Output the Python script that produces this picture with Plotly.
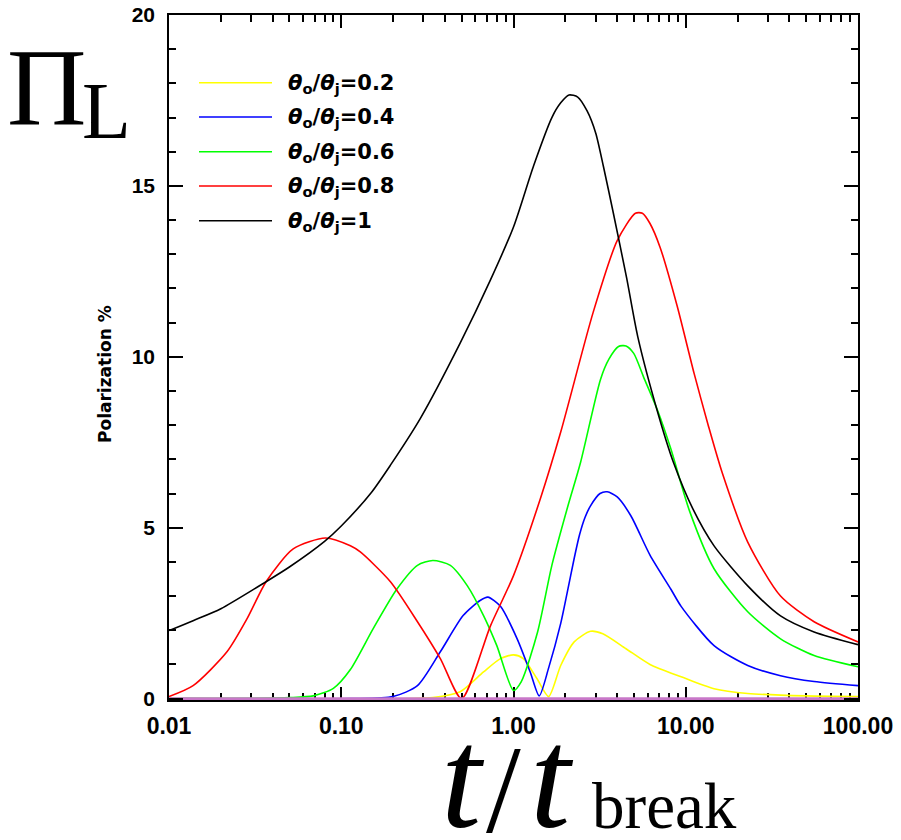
import plotly.graph_objects as go

# ---- data ----
x_tick_vals = [0.01, 0.1, 1, 10, 100]
x_tick_text = ["0.01", "0.10", "1.00", "10.00", "100.00"]
y_tick_vals = [0, 5, 10, 15, 20]
y_tick_text = ["0", "5", "10", "15", "20"]

labels = ["0.2", "0.4", "0.6", "0.8", "1"]
colors = ["#ffff00", "#0000ff", "#00ff00", "#ff0000", "#000000"]

x_02 = [0.01, 0.25, 0.34, 0.49, 0.67, 0.84, 1.0, 1.14, 1.37, 1.6, 1.88, 2.25, 2.8, 3.3, 4.5, 6.2, 9.4, 14.6, 22.9, 50, 100]
y_02 = [0.0, 0.0, 0.03, 0.2, 0.78, 1.17, 1.28, 1.17, 0.58, 0.06, 0.97, 1.66, 1.97, 1.9, 1.46, 1.0, 0.64, 0.29, 0.15, 0.08, 0.06]

x_04 = [0.01, 0.113, 0.2, 0.277, 0.376, 0.51, 0.64, 0.71, 0.84, 1.05, 1.25, 1.41, 1.6, 1.88, 2.05, 2.25, 2.42, 2.6, 2.8, 3.18, 3.5, 4.0, 4.8, 6.2, 8.2, 9.4, 14.6, 22.9, 35.5, 55.6, 100]
y_04 = [0.0, 0.0, 0.06, 0.38, 1.37, 2.43, 2.87, 2.97, 2.7, 1.75, 0.78, 0.08, 0.9, 2.2, 3.1, 4.1, 4.8, 5.3, 5.64, 6.0, 6.05, 5.9, 5.35, 4.2, 3.2, 2.7, 1.55, 0.97, 0.67, 0.5, 0.38]

x_06 = [0.01, 0.03, 0.05, 0.0688, 0.09, 0.113, 0.153, 0.21, 0.277, 0.34, 0.43, 0.54, 0.67, 0.8, 1.0, 1.11, 1.38, 1.67, 2.06, 2.45, 3.2, 3.58, 4.07, 4.5, 4.99, 5.7, 6.9, 8.2, 10.5, 14.6, 22.9, 35.5, 55.6, 100]
y_06 = [0.0, 0.01, 0.03, 0.08, 0.3, 0.85, 2.04, 3.2, 3.9, 4.04, 3.9, 3.3, 2.43, 1.55, 0.24, 0.5, 1.95, 3.9, 5.6, 6.91, 9.34, 9.93, 10.3, 10.32, 10.1, 9.4, 8.4, 7.3, 5.5, 3.8, 2.54, 1.75, 1.26, 0.93]

x_08 = [0.01, 0.0138, 0.0217, 0.0284, 0.0366, 0.0526, 0.081, 0.113, 0.129, 0.193, 0.277, 0.376, 0.5, 0.735, 1.0, 1.43, 1.88, 2.9, 4.0, 5.1, 5.6, 6.2, 7.1, 8.9, 11.2, 13.5, 16.3, 22.9, 35.5, 55.6, 100]
y_08 = [0.06, 0.38, 1.37, 2.34, 3.42, 4.38, 4.70, 4.47, 4.29, 3.42, 2.25, 1.17, 0.0, 2.13, 3.6, 5.84, 7.8, 11.3, 13.4, 14.2, 14.2, 13.9, 13.2, 11.5, 9.5, 8.0, 6.6, 4.58, 3.0, 2.25, 1.66]

x_10 = [0.01, 0.0138, 0.02, 0.0366, 0.05, 0.08, 0.1, 0.15, 0.193, 0.288, 0.49, 0.735, 1.0, 1.31, 1.67, 1.88, 2.1, 2.36, 2.67, 3.0, 3.33, 3.8, 4.54, 5.26, 6.87, 8.5, 11.0, 14.6, 22.9, 35.5, 55.6, 100]
y_10 = [1.99, 2.28, 2.63, 3.42, 3.85, 4.6, 5.05, 6.04, 6.83, 8.2, 10.4, 12.25, 13.8, 15.6, 17.0, 17.43, 17.66, 17.6, 17.2, 16.55, 15.56, 14.2, 12.3, 10.6, 8.38, 6.9, 5.55, 4.47, 3.3, 2.42, 1.95, 1.58]

x_zero = [0.01, 100]
y_zero = [0.0, 0.0]

series_x = [x_02, x_04, x_06, x_08, x_10]
series_y = [y_02, y_04, y_06, y_08, y_10]

# ---- figure ----
fig = go.Figure()
for xs, ys, c, lab in zip(series_x, series_y, colors, labels):
    fig.add_trace(go.Scatter(x=xs, y=ys, mode="lines",
                             line=dict(color=c, width=1.6, shape="spline", smoothing=0.7),
                             name="θo/θj=" + lab, showlegend=False))
fig.add_trace(go.Scatter(x=x_zero, y=y_zero, mode="lines", line=dict(color="#c878c8", width=3),
                         showlegend=False, hoverinfo="skip"))

minor_x = [m * 10 ** e for e in (-2, -1, 0, 1) for m in range(2, 10)]

W, H = 901, 840
L, R, T, B = 169, 43, 15, 140
pw, ph = W - L - R, H - T - B


def px(xp):
    return (xp - L) / pw


def py(yp):
    return (H - B - yp) / ph


fig.update_layout(
    width=W, height=H,
    margin=dict(l=L, r=R, t=T, b=B, autoexpand=False),
    paper_bgcolor="white", plot_bgcolor="white",
    font=dict(family="Liberation Sans", color="black"),
    xaxis=dict(type="log", range=[-2, 2], showgrid=False, zeroline=False, automargin=False,
               showline=True, linecolor="black", linewidth=1.5, mirror="allticks",
               ticks="inside", ticklen=13, tickwidth=1.5, tickcolor="black",
               tickvals=x_tick_vals, ticktext=x_tick_text,
               tickfont=dict(family="Liberation Sans", size=23, color="black", weight="bold"),
               ticklabelstandoff=5, layer="below traces",
               minor=dict(ticks="inside", ticklen=7, tickwidth=1.5, tickcolor="black",
                          tickvals=minor_x, showgrid=False)),
    yaxis=dict(range=[-0.04, 20], showgrid=False, zeroline=False, automargin=False,
               showline=True, linecolor="black", linewidth=1.5, mirror="allticks",
               ticks="inside", ticklen=14, tickwidth=1.5, tickcolor="black",
               tickvals=y_tick_vals, ticktext=y_tick_text,
               tickfont=dict(family="Liberation Sans", size=21, color="black", weight="bold"),
               ticklabelstandoff=8,
               minor=dict(ticks="inside", ticklen=7, tickwidth=1.5, tickcolor="black",
                          dtick=1, showgrid=False)),
)

# legend drawn manually
leg_rows = [82.7, 117, 151.7, 186, 220.7]
shapes = []
annots = []
for yrow, c, lab in zip(leg_rows, colors, labels):
    shapes.append(dict(type="line", xref="paper", yref="paper",
                       x0=px(199), x1=px(272), y0=py(yrow), y1=py(yrow),
                       line=dict(color=c, width=1.5)))
    annots.append(dict(xref="paper", yref="paper", x=px(286), y=py(yrow + 1),
                       xanchor="left", yanchor="middle", showarrow=False,
                       text="<b><i>θ</i><sub>o</sub>/<i>θ</i><sub>j</sub>=" + lab + "</b>",
                       font=dict(family="DejaVu Sans", size=21, color="black")))

annots.append(dict(xref="paper", yref="paper", x=px(105), y=py(374),
                   xanchor="center", yanchor="middle", showarrow=False, textangle=-90,
                   text="<b>Polarization %</b>",
                   font=dict(family="DejaVu Sans", size=17, color="black")))
annots.append(dict(xref="paper", yref="paper", x=px(46), y=py(87),
                   xanchor="center", yanchor="middle", showarrow=False,
                   text="Π", font=dict(family="Liberation Serif", size=110, color="black")))
annots.append(dict(xref="paper", yref="paper", x=px(106), y=py(111),
                   xanchor="center", yanchor="middle", showarrow=False,
                   text="L", font=dict(family="Liberation Serif", size=80, color="black")))
# t / t_break
annots.append(dict(xref="paper", yref="paper", x=px(463), y=py(778),
                   xanchor="center", yanchor="middle", showarrow=False,
                   text="<i>t</i>",
                   font=dict(family="Liberation Serif", size=145, color="black")))
annots.append(dict(xref="paper", yref="paper", x=px(503), y=py(790),
                   xanchor="center", yanchor="middle", showarrow=False,
                   text="/",
                   font=dict(family="Liberation Serif", size=125, color="black")))
annots.append(dict(xref="paper", yref="paper", x=px(552), y=py(778),
                   xanchor="center", yanchor="middle", showarrow=False,
                   text="<i>t</i>",
                   font=dict(family="Liberation Serif", size=145, color="black")))
annots.append(dict(xref="paper", yref="paper", x=px(590), y=py(806),
                   xanchor="left", yanchor="middle", showarrow=False,
                   text="break",
                   font=dict(family="Liberation Serif", size=65, color="black")))

fig.update_layout(shapes=shapes, annotations=annots)
fig.write_html("out.html")
